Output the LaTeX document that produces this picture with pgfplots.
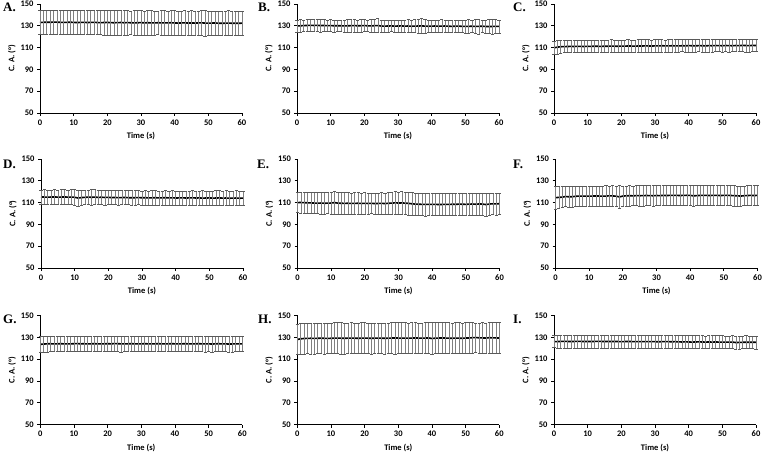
\documentclass[border=0pt]{standalone}
\usepackage{pgfplots}
\usepackage{pgfplotstable}
\pgfplotsset{compat=1.18}
\usepackage{fontspec}
\setmainfont{Carlito}
\newfontfamily\letterfont{Liberation Serif}

\pgfplotsset{
  panel/.style={
    scale only axis, width=202pt, height=109pt,
    xmin=0, xmax=60, ymin=50, ymax=150,
    xtick={0,10,...,60}, ytick={50,70,...,150},
    axis lines=left, axis line style={-, line width=0.9pt, black},
    tick align=outside, major tick length=3pt,
    tick style={black, line width=0.8pt},
    tick label style={font=\bfseries\fontsize{8.5}{9}\selectfont},
    /pgf/number format/assume math mode=true,
    xlabel={Time (s)}, ylabel={C. A. (°)},
    label style={font=\bfseries\fontsize{8.5}{9}\selectfont},
    xlabel style={at={(axis description cs:0.5,0)}, anchor=center, yshift=-23pt},
    ylabel style={at={(axis description cs:-0.139,0.5)}, anchor=center},
    clip=false,
  },
  cab/.style={black, line width=1.6pt, no markers,
    error bars/.cd, y dir=both, y explicit,
    error bar style={line width=0.5pt, gray},
    error mark options={rotate=90, mark size=1.6pt, line width=0.5pt, black!65}},
}

\pgfplotstableread[row sep=\\]{m e\\
133.0 11.0\\ 133.2 10.8\\ 133.3 11.2\\ 133.2 11.1\\ 133.4 10.9\\ 133.3 11.3\\ 133.2 11.0\\ 133.1 11.2\\ 133.2 11.4\\ 133.3 10.9\\
133.1 11.1\\ 133.0 11.0\\ 133.1 11.3\\ 133.2 11.2\\ 133.0 11.0\\ 133.1 11.1\\ 133.2 11.4\\ 133.0 11.2\\ 132.9 11.0\\ 133.0 11.3\\
133.1 11.5\\ 132.9 11.2\\ 132.8 11.1\\ 132.9 11.4\\ 133.0 11.3\\ 132.8 11.6\\ 132.9 11.2\\ 132.8 11.0\\ 132.7 11.3\\ 132.8 11.4\\
132.9 11.2\\ 132.7 11.1\\ 132.8 11.3\\ 132.7 11.5\\ 132.6 11.2\\ 132.8 11.0\\ 132.7 11.4\\ 132.6 11.3\\ 132.7 11.1\\ 132.8 11.2\\
132.6 11.5\\ 132.5 11.3\\ 132.6 11.2\\ 132.7 11.4\\ 132.5 11.1\\ 132.6 11.3\\ 132.5 11.2\\ 132.6 11.0\\ 132.7 11.4\\ 132.5 11.8\\
132.4 11.3\\ 132.5 11.2\\ 132.6 11.1\\ 132.4 11.4\\ 132.3 11.3\\ 132.4 11.2\\ 132.5 11.5\\ 132.3 11.3\\ 132.4 11.4\\ 132.3 11.2\\
132.4 11.3\\
}\tA

\pgfplotstableread[row sep=\\]{m e\\
129.8 5.5\\ 130.0 6.0\\ 130.2 5.2\\ 130.3 5.4\\ 130.4 5.6\\ 130.3 5.5\\ 130.4 5.3\\ 130.2 5.8\\ 130.3 5.5\\ 130.1 5.4\\
130.2 5.6\\ 130.0 5.5\\ 130.1 5.3\\ 130.0 5.4\\ 129.9 5.5\\ 130.0 5.6\\ 130.1 5.7\\ 130.2 6.2\\ 130.0 5.5\\ 130.1 5.8\\
130.2 5.6\\ 130.0 5.4\\ 129.9 5.9\\ 130.1 6.3\\ 130.2 6.5\\ 129.8 5.6\\ 129.7 5.4\\ 129.8 5.5\\ 129.9 5.3\\ 129.7 5.6\\
129.8 5.7\\ 129.9 5.5\\ 129.7 5.4\\ 129.8 5.8\\ 129.6 5.6\\ 129.7 5.9\\ 129.8 6.2\\ 129.9 6.6\\ 129.7 6.3\\ 129.6 5.8\\
129.7 5.6\\ 129.8 5.5\\ 129.6 5.7\\ 129.7 5.9\\ 129.8 5.6\\ 129.6 5.5\\ 129.5 5.4\\ 129.6 5.6\\ 129.7 5.5\\ 129.5 5.7\\
129.4 5.9\\ 129.5 6.1\\ 129.6 5.8\\ 129.4 6.3\\ 129.5 6.8\\ 129.6 5.6\\ 129.4 5.9\\ 129.3 6.5\\ 129.4 6.8\\ 129.5 6.2\\
129.4 5.8\\
}\tB

\pgfplotstableread[row sep=\\]{m e\\
109.8 6.0\\ 110.4 6.2\\ 110.8 5.8\\ 110.9 5.6\\ 111.0 5.7\\ 111.1 5.5\\ 111.0 5.6\\ 111.2 5.8\\ 111.1 5.7\\ 111.0 5.6\\
111.2 5.5\\ 111.1 5.7\\ 111.3 5.6\\ 111.2 5.8\\ 111.1 5.5\\ 111.3 5.6\\ 111.2 5.7\\ 111.4 5.9\\ 111.3 5.6\\ 111.2 5.5\\
111.4 5.7\\ 111.3 5.6\\ 111.5 5.8\\ 111.4 5.7\\ 111.3 5.6\\ 111.5 5.9\\ 111.4 6.0\\ 111.6 5.8\\ 111.5 5.7\\ 111.4 5.6\\
111.6 5.8\\ 111.5 5.7\\ 111.7 5.6\\ 111.6 5.5\\ 111.5 5.7\\ 111.7 5.8\\ 111.6 5.6\\ 111.5 5.7\\ 111.7 5.5\\ 111.6 5.6\\
111.8 5.8\\ 111.7 5.7\\ 111.6 5.6\\ 111.8 5.5\\ 111.7 5.7\\ 111.6 5.6\\ 111.8 5.8\\ 111.7 5.7\\ 111.9 5.6\\ 111.8 5.5\\
111.7 5.7\\ 111.9 5.6\\ 111.8 5.8\\ 111.7 5.5\\ 111.9 5.4\\ 111.8 5.6\\ 112.0 5.7\\ 111.9 5.8\\ 111.8 5.9\\ 112.0 5.7\\
111.9 5.6\\
}\tC

\pgfplotstableread[row sep=\\]{m e\\
115.2 6.5\\ 115.1 6.8\\ 115.0 6.6\\ 115.1 6.5\\ 115.2 6.7\\ 115.0 6.6\\ 115.1 6.8\\ 115.2 6.7\\ 115.0 6.5\\ 115.1 6.9\\
114.9 7.0\\ 114.2 7.2\\ 114.6 6.8\\ 114.8 6.6\\ 115.0 6.7\\ 114.9 6.9\\ 115.0 6.8\\ 114.8 6.7\\ 114.9 6.6\\ 114.7 6.8\\
114.8 6.7\\ 114.6 6.5\\ 114.7 6.6\\ 114.5 6.7\\ 114.6 6.5\\ 114.7 6.6\\ 114.5 6.4\\ 114.4 6.5\\ 114.5 6.6\\ 114.6 6.5\\
114.4 6.4\\ 114.5 6.6\\ 114.3 6.5\\ 114.4 6.7\\ 114.5 6.6\\ 114.3 6.5\\ 114.4 6.4\\ 114.5 6.6\\ 114.3 6.5\\ 114.4 6.7\\
114.2 6.6\\ 114.3 6.5\\ 114.4 6.4\\ 114.2 6.6\\ 114.3 6.5\\ 114.4 6.7\\ 114.2 6.6\\ 114.3 6.5\\ 114.1 6.8\\ 114.2 6.6\\
114.3 6.5\\ 114.1 6.7\\ 114.2 6.9\\ 114.3 6.6\\ 114.1 6.5\\ 114.2 6.7\\ 114.0 6.6\\ 114.1 6.5\\ 114.2 6.7\\ 114.0 6.6\\
114.1 6.5\\
}\tD

\pgfplotstableread[row sep=\\]{m e\\
110.0 9.2\\ 110.1 9.5\\ 109.9 9.6\\ 109.8 9.4\\ 109.7 9.8\\ 109.6 9.7\\ 109.5 9.6\\ 109.6 9.9\\ 109.4 9.8\\ 109.5 9.7\\
109.6 10.0\\ 110.0 10.3\\ 109.5 10.1\\ 109.4 9.9\\ 109.3 9.8\\ 109.4 9.7\\ 109.2 9.6\\ 109.3 9.8\\ 109.4 9.9\\ 109.2 9.7\\
109.3 9.8\\ 109.2 9.6\\ 109.3 9.5\\ 109.1 9.7\\ 109.2 9.6\\ 109.3 9.8\\ 109.1 9.9\\ 109.4 10.2\\ 109.5 10.4\\ 109.8 10.6\\
109.6 10.2\\ 109.7 10.5\\ 109.5 10.3\\ 109.3 10.6\\ 108.9 10.2\\ 108.6 10.4\\ 108.5 10.5\\ 108.4 10.3\\ 108.3 10.4\\ 108.4 10.2\\
108.3 10.3\\ 108.4 10.1\\ 108.2 10.2\\ 108.3 10.3\\ 108.4 10.2\\ 108.3 10.0\\ 108.5 10.1\\ 108.4 10.3\\ 108.6 10.2\\ 108.5 10.1\\
108.4 10.0\\ 108.6 10.2\\ 108.7 10.1\\ 108.5 10.3\\ 108.8 10.0\\ 108.6 10.1\\ 108.2 10.4\\ 108.7 10.2\\ 108.9 10.0\\ 108.8 10.1\\
109.0 10.0\\
}\tE

\pgfplotstableread[row sep=\\]{m e\\
114.5 10.5\\ 114.8 10.2\\ 115.0 9.6\\ 115.6 9.4\\ 115.3 9.6\\ 115.4 9.5\\ 115.8 9.3\\ 116.0 9.2\\ 115.9 9.0\\ 116.0 9.3\\
115.9 9.2\\ 116.0 9.1\\ 116.1 9.3\\ 116.0 9.0\\ 115.9 9.1\\ 116.0 9.5\\ 116.2 9.2\\ 116.1 9.4\\ 115.9 9.3\\ 115.2 10.5\\
116.0 9.2\\ 116.2 9.1\\ 116.3 9.3\\ 116.2 9.0\\ 116.4 9.1\\ 116.3 9.2\\ 116.4 9.3\\ 116.5 9.0\\ 116.4 9.1\\ 116.3 9.2\\
116.5 9.0\\ 116.4 9.1\\ 116.6 9.3\\ 116.5 9.2\\ 116.6 9.4\\ 116.7 9.1\\ 116.6 9.2\\ 116.5 9.3\\ 116.6 9.1\\ 116.7 9.0\\
116.6 9.2\\ 116.2 9.3\\ 116.4 9.1\\ 116.6 9.2\\ 116.7 9.0\\ 116.6 9.1\\ 116.5 9.3\\ 116.7 9.2\\ 116.6 9.4\\ 116.5 9.1\\
116.6 9.2\\ 116.7 9.0\\ 116.5 9.1\\ 116.4 9.3\\ 116.2 9.2\\ 116.0 9.1\\ 116.3 9.0\\ 116.5 9.1\\ 116.6 9.2\\ 116.5 9.0\\
116.6 9.1\\
}\tF

\pgfplotstableread[row sep=\\]{m e\\
123.5 7.5\\ 123.8 7.6\\ 124.0 7.4\\ 124.1 7.2\\ 123.9 7.1\\ 124.0 7.0\\ 124.1 7.2\\ 124.0 7.1\\ 123.9 7.0\\ 124.0 7.1\\
124.1 7.2\\ 124.2 7.0\\ 124.0 7.1\\ 124.1 7.2\\ 123.9 7.0\\ 124.0 7.1\\ 124.1 7.0\\ 124.0 7.2\\ 123.9 7.1\\ 124.0 7.0\\
124.1 7.1\\ 124.0 7.2\\ 124.2 7.0\\ 124.1 7.1\\ 124.0 7.3\\ 123.9 7.1\\ 124.0 7.0\\ 124.1 7.2\\ 124.0 7.1\\ 123.9 7.0\\
124.0 7.1\\ 124.1 7.0\\ 124.0 7.2\\ 123.9 7.1\\ 124.0 7.0\\ 124.1 7.1\\ 124.0 7.2\\ 123.9 7.0\\ 124.0 7.1\\ 124.1 7.0\\
124.0 7.2\\ 123.9 7.1\\ 124.0 7.0\\ 124.1 7.1\\ 124.0 7.2\\ 123.9 7.0\\ 124.0 7.1\\ 124.1 7.0\\ 124.0 7.1\\ 123.9 7.2\\
124.0 7.0\\ 123.8 7.1\\ 124.0 7.0\\ 124.1 7.2\\ 123.9 7.1\\ 124.0 7.0\\ 123.8 7.1\\ 123.9 7.2\\ 124.0 7.0\\ 123.9 7.1\\
124.0 7.0\\
}\tG

\pgfplotstableread[row sep=\\]{m e\\
128.0 14.0\\ 128.6 14.2\\ 128.9 14.1\\ 129.0 14.0\\ 129.1 14.2\\ 129.0 14.1\\ 129.1 14.0\\ 129.2 14.1\\ 129.1 14.2\\ 129.0 14.0\\
129.1 14.1\\ 129.2 14.2\\ 129.3 14.3\\ 129.2 14.6\\ 129.1 14.2\\ 129.2 14.1\\ 129.3 14.2\\ 129.2 14.0\\ 129.1 14.1\\ 129.2 14.2\\
129.3 14.1\\ 129.2 14.0\\ 129.1 14.2\\ 129.2 14.1\\ 129.3 14.0\\ 129.2 14.1\\ 129.1 14.2\\ 129.2 14.0\\ 129.3 14.1\\ 129.4 14.6\\
129.3 14.3\\ 129.2 14.2\\ 129.3 14.1\\ 129.2 14.0\\ 129.3 14.2\\ 129.4 14.1\\ 129.3 14.0\\ 129.2 14.1\\ 129.3 14.2\\ 129.4 14.3\\
128.9 14.6\\ 129.2 14.2\\ 129.3 14.1\\ 129.4 14.0\\ 129.3 14.1\\ 129.2 14.2\\ 129.1 14.0\\ 129.3 14.1\\ 129.2 14.2\\ 129.1 14.0\\
129.3 14.1\\ 129.4 14.2\\ 129.6 13.8\\ 129.8 13.5\\ 129.5 13.8\\ 129.4 14.1\\ 129.3 14.0\\ 129.6 14.2\\ 129.5 14.1\\ 129.4 14.3\\
129.3 14.1\\
}\tH

\pgfplotstableread[row sep=\\]{m e\\
126.0 5.5\\ 126.1 5.8\\ 126.2 6.0\\ 126.3 5.9\\ 126.2 6.1\\ 126.1 6.0\\ 126.2 5.9\\ 126.3 6.0\\ 126.2 6.1\\ 126.1 5.9\\
126.2 6.0\\ 126.1 6.1\\ 126.2 6.0\\ 126.3 5.9\\ 126.2 6.0\\ 126.1 6.1\\ 126.2 6.0\\ 126.1 5.9\\ 126.2 6.0\\ 126.1 5.8\\
126.0 5.9\\ 126.1 6.0\\ 126.2 5.8\\ 126.1 5.9\\ 126.0 6.0\\ 126.1 5.8\\ 126.0 5.9\\ 126.1 6.0\\ 126.0 5.9\\ 126.1 5.8\\
126.0 5.9\\ 125.9 6.0\\ 126.0 5.8\\ 126.1 5.9\\ 126.0 5.8\\ 125.9 5.9\\ 126.0 6.0\\ 125.8 5.8\\ 125.7 5.9\\ 125.8 5.8\\
125.7 6.0\\ 125.6 5.9\\ 125.7 5.8\\ 125.8 5.9\\ 125.7 6.0\\ 125.6 5.8\\ 125.7 5.9\\ 125.6 6.0\\ 125.7 5.8\\ 125.6 5.9\\
125.5 6.0\\ 125.6 5.8\\ 125.5 5.9\\ 125.6 6.0\\ 125.2 6.2\\ 125.3 6.0\\ 125.4 5.9\\ 125.5 6.0\\ 125.4 5.8\\ 125.5 5.9\\
125.4 6.0\\
}\tI

\newcommand\lettersty{\letterfont\bfseries\fontsize{13}{13}\selectfont}

\begin{document}
\begin{tikzpicture}
\useasboundingbox (0,0) rectangle (762pt,452pt);
% row 1
\begin{axis}[panel, at={(40pt,339pt)}, anchor=south west]
\addplot[cab] table[x expr=\coordindex, y=m, y error=e]{\tA};
\end{axis}
\begin{axis}[panel, at={(297pt,339pt)}, anchor=south west]
\addplot[cab] table[x expr=\coordindex, y=m, y error=e]{\tB};
\end{axis}
\begin{axis}[panel, at={(554pt,339pt)}, anchor=south west]
\addplot[cab] table[x expr=\coordindex, y=m, y error=e]{\tC};
\end{axis}
% row 2
\begin{axis}[panel, at={(41pt,184pt)}, anchor=south west]
\addplot[cab] table[x expr=\coordindex, y=m, y error=e]{\tD};
\end{axis}
\begin{axis}[panel, at={(297.5pt,184pt)}, anchor=south west]
\addplot[cab] table[x expr=\coordindex, y=m, y error=e]{\tE};
\end{axis}
\begin{axis}[panel, at={(555.5pt,184pt)}, anchor=south west]
\addplot[cab] table[x expr=\coordindex, y=m, y error=e]{\tF};
\end{axis}
% row 3
\begin{axis}[panel, at={(40.3pt,27.5pt)}, anchor=south west]
\addplot[cab] table[x expr=\coordindex, y=m, y error=e]{\tG};
\end{axis}
\begin{axis}[panel, at={(297.3pt,27.5pt)}, anchor=south west]
\addplot[cab] table[x expr=\coordindex, y=m, y error=e]{\tH};
\end{axis}
\begin{axis}[panel, at={(554pt,27.5pt)}, anchor=south west]
\addplot[cab] table[x expr=\coordindex, y=m, y error=e]{\tI};
\end{axis}
% panel letters
\node[anchor=west, font=\lettersty, inner sep=0pt] at (3pt,445pt) {A.};
\node[anchor=west, font=\lettersty, inner sep=0pt] at (258pt,445pt) {B.};
\node[anchor=west, font=\lettersty, inner sep=0pt] at (513pt,445pt) {C.};
\node[anchor=west, font=\lettersty, inner sep=0pt] at (3pt,288pt) {D.};
\node[anchor=west, font=\lettersty, inner sep=0pt] at (257pt,288pt) {E.};
\node[anchor=west, font=\lettersty, inner sep=0pt] at (513pt,288pt) {F.};
\node[anchor=west, font=\lettersty, inner sep=0pt] at (3pt,133pt) {G.};
\node[anchor=west, font=\lettersty, inner sep=0pt] at (258pt,133pt) {H.};
\node[anchor=west, font=\lettersty, inner sep=0pt] at (513pt,133pt) {I.};
\end{tikzpicture}
\end{document}
